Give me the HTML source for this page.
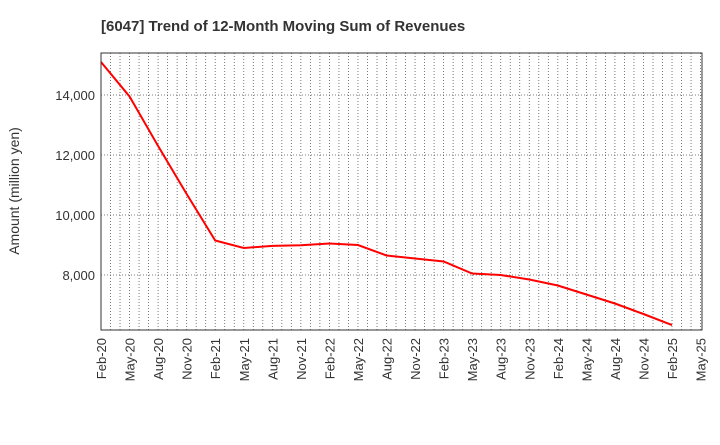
<!DOCTYPE html>
<html><head><meta charset="utf-8"><style>
body{margin:0;background:#fff;font-family:"Liberation Sans",sans-serif;}
</style></head><body>
<svg width="720" height="440" xmlns="http://www.w3.org/2000/svg">
<text x="101" y="31" font-size="15" font-weight="bold" fill="#333">[6047]  Trend of 12-Month Moving Sum of Revenues</text>
<text transform="translate(19,191) rotate(-90)" text-anchor="middle" font-size="14" fill="#333">Amount (million yen)</text>
<g id="grid"></g><g id="axes"></g><g id="series"></g>
<rect x="101" y="53" width="601" height="277" fill="none" stroke="#333" stroke-width="1"/>
</svg>
<script>
const xLabels=["Feb-20","May-20","Aug-20","Nov-20","Feb-21","May-21","Aug-21","Nov-21","Feb-22","May-22","Aug-22","Nov-22","Feb-23","May-23","Aug-23","Nov-23","Feb-24","May-24","Aug-24","Nov-24","Feb-25","May-25"];
const yTicks=[8000,10000,12000,14000];
const revenues=[15100,13950,12300,10700,9150,8900,8970,8990,9050,9000,8650,8550,8450,8050,8000,7850,7650,7350,7050,6700,6330];
const NS="http://www.w3.org/2000/svg";
const L=101,R=702,T=53,B=330;
const xStep=(R-L)/(xLabels.length-1+0.05);
function xq(i){return L+i*xStep;}
function y(v){return 275-(v-8000)*60/2000;}
function mk(t,a,p){const e=document.createElementNS(NS,t);for(const k in a)e.setAttribute(k,a[k]);p.appendChild(e);return e;}
const g=document.getElementById('grid'),ax=document.getElementById('axes'),s=document.getElementById('series');
for(let m=1;m<(xLabels.length-1)*3+1;m++){const x=L+m*xStep/3;if(x>=R)break;
const l=mk('line',{x1:x,x2:x,y1:T,y2:B,stroke:'#555','stroke-dasharray':'1,2','stroke-width':0.8},g);

}
yTicks.forEach(v=>{const l=mk('line',{x1:L,x2:R,y1:y(v),y2:y(v),stroke:'#555','stroke-dasharray':'1,2','stroke-width':0.8},g);


const t=mk('text',{x:L-6,y:y(v)+5,'text-anchor':'end','font-size':13,fill:'#333'},ax);t.textContent=v.toLocaleString('en-US');

});
xLabels.forEach((lab,i)=>{const x=xq(i);const t=mk('text',{transform:`translate(${x+5},${B+8}) rotate(-90)`,'text-anchor':'end','font-size':13,fill:'#333'},ax);t.textContent=lab;

});
const p=mk('polyline',{points:revenues.map((v,i)=>xq(i)+','+y(v)).join(' '),fill:'none',stroke:'#f00','stroke-width':2},s);


</script>
</body></html>
